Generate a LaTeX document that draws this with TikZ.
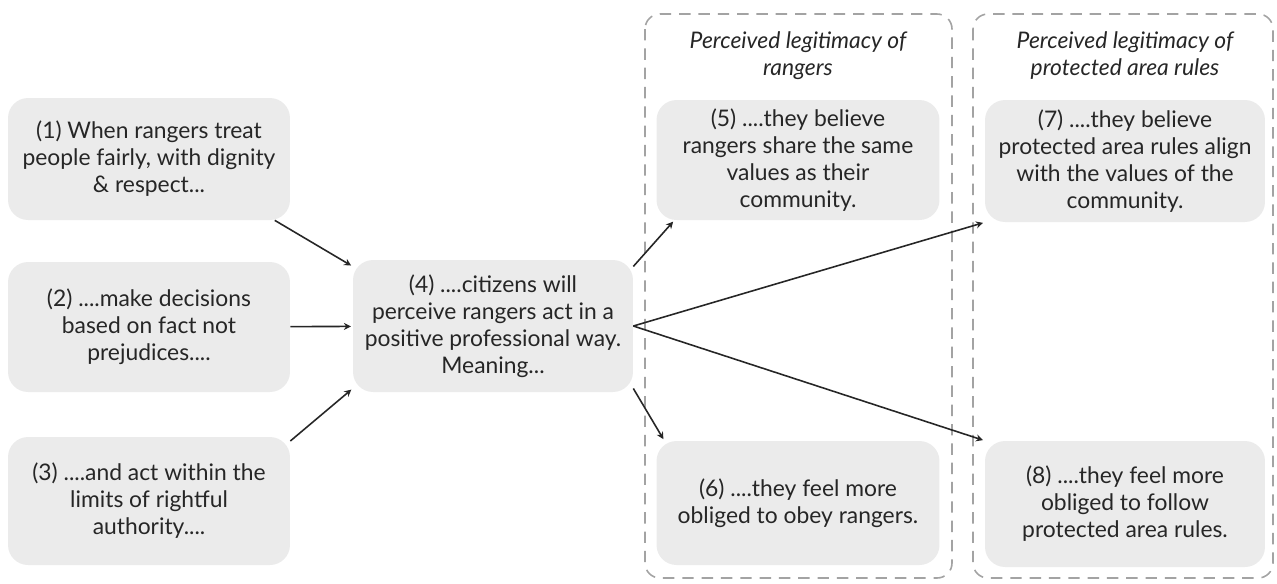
\documentclass[tikz,border=0pt]{standalone}
\usepackage{fontspec}
\setmainfont{Lato}
\usetikzlibrary{arrows.meta}
\definecolor{boxgray}{HTML}{EBEBEB}
\definecolor{txtgray}{HTML}{262626}
\definecolor{dashgray}{HTML}{A3A3A3}

\begin{document}
\begin{tikzpicture}[x=0.02cm, y=-0.02cm,
  box/.style={rectangle, rounded corners=0.4cm, fill=boxgray, text=txtgray, align=center, inner sep=0pt, font=\fontsize{13}{15.4}\selectfont},
  hdr/.style={align=center, text=txtgray, font=\fontsize{13}{15.4}\selectfont\itshape},
  grpframe/.style={draw=dashgray, line width=0.9pt, dash pattern=on 6.5pt off 4.5pt, rounded corners=0.3cm},
  arr/.style={draw=black!85, line width=0.9pt, shorten >=1pt, -{Stealth[length=4pt,width=4pt]}}]
\useasboundingbox (0,0) rectangle (1277,583);

\draw[grpframe] (645,14) rectangle (952,578);
\draw[grpframe] (973,14) rectangle (1273,578);
\node[hdr] (t1) at (798,56){Perceived legitimacy of\\rangers};
\node[hdr] (t2) at (1125,56){Perceived legitimacy of\\protected area rules};

\node[box, minimum width=5.64cm, minimum height=2.44cm] (n1) at (149,159){(1) When rangers treat\\people fairly, with dignity\\\& respect...};
\node[box, minimum width=5.64cm, minimum height=2.6cm] (n2) at (149,327){(2) ....make decisions\\based on fact not\\prejudices....};
\node[box, minimum width=5.64cm, minimum height=2.56cm] (n3) at (149,501){(3) ....and act within the\\limits of rightful\\authority....};
\node[box, minimum width=5.6cm, minimum height=2.64cm] (n4) at (493,326){(4) ....citizens will\\perceive rangers act in a\\positive professional way.\\Meaning...};
\node[box, minimum width=5.66cm, minimum height=2.4cm] (n5) at (798,160){(5) ....they believe\\rangers share the same\\values as their\\community.};
\node[box, minimum width=5.66cm, minimum height=2.48cm] (n6) at (798,503){(6) ....they feel more\\obliged to obey rangers.};
\node[box, minimum width=5.6cm, minimum height=2.44cm] (n7) at (1125,161){(7) ....they believe\\protected area rules align\\with the values of the\\community.};
\node[box, minimum width=5.6cm, minimum height=2.52cm] (n8) at (1125,504){(8) ....they feel more\\obliged to follow\\protected area rules.};

\draw[arr] (n1.-26) -- (n4.157);
\draw[arr] (n2) -- (n4);
\draw[arr] (n3.23) -- (n4.204);
\draw[arr] (n4.23) -- (n5.206);
\draw[arr] (n4.-24) -- (n6.155);
\draw[arr] (n4.east) -- (n7.south west);
\draw[arr] (n4.east) -- (n8.north west);
\end{tikzpicture}
\end{document}
